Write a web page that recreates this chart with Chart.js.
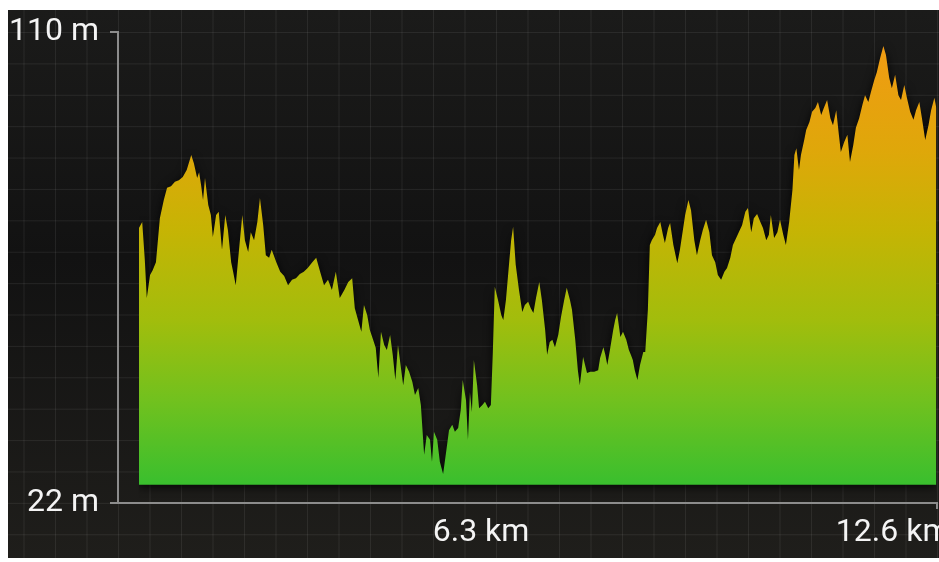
<!DOCTYPE html>
<html>
<head>
<meta charset="utf-8">
<script src="https://cdn.jsdelivr.net/npm/chart.js@4.4.0/dist/chart.umd.min.js"></script>
<style>
  html, body { margin: 0; padding: 0; background: #fff; }
  #wrap {
    position: absolute; left: 8px; top: 10px; width: 931px; height: 548px;
    background-color: #151515;
    background-image:
      linear-gradient(to right, rgba(255,255,255,0.07) 1px, transparent 1px),
      linear-gradient(to bottom, rgba(255,255,255,0.07) 1px, transparent 1px),
      linear-gradient(to bottom, #1b1b1a 0%, #121212 45%, #1f1e1b 100%);
    background-size: 31.5px 31.4px, 31.5px 31.4px, 100% 100%;
    background-position: 110px 22px, 110px 22px, 0 0;
    overflow: hidden;
  }
  canvas { display: block; }
</style>
</head>
<body>
<div id="wrap"><canvas id="profile" width="931" height="548"></canvas></div>
<script>
// elevation profile
const distanceKm = [
  1.07, 1.12, 1.16, 1.19, 1.24, 1.28, 1.33, 1.39, 1.45, 1.50, 1.56, 1.62, 1.68, 1.74, 1.80, 1.87, 1.91, 1.96, 1.99, 2.02,
  2.05, 2.08, 2.13, 2.17, 2.20, 2.25, 2.29, 2.34, 2.39, 2.43, 2.48, 2.51, 2.55, 2.60, 2.65, 2.69, 2.74, 2.78, 2.83, 2.88,
  2.92, 2.97, 3.01, 3.06, 3.10, 3.17, 3.23, 3.29, 3.35, 3.41, 3.47, 3.53, 3.59, 3.65, 3.72, 3.78, 3.84, 3.90, 3.96, 4.02,
  4.08, 4.14, 4.21, 4.27, 4.33, 4.37, 4.42, 4.47, 4.51, 4.56, 4.60, 4.65, 4.69, 4.73, 4.77, 4.82, 4.86, 4.91, 4.95, 4.99,
  5.03, 5.08, 5.11, 5.15, 5.20, 5.25, 5.29, 5.34, 5.38, 5.43, 5.47, 5.52, 5.55, 5.58, 5.63, 5.67, 5.72, 5.77, 5.81, 5.86,
  5.90, 5.95, 5.99, 6.02, 6.07, 6.10, 6.13, 6.16, 6.19, 6.24, 6.27, 6.32, 6.36, 6.41, 6.45, 6.48, 6.51, 6.56, 6.61, 6.64,
  6.68, 6.73, 6.76, 6.79, 6.83, 6.88, 6.93, 6.97, 7.02, 7.06, 7.10, 7.14, 7.19, 7.23, 7.28, 7.31, 7.35, 7.39, 7.43, 7.48,
  7.52, 7.57, 7.61, 7.66, 7.69, 7.74, 7.78, 7.81, 7.86, 7.89, 7.92, 7.97, 8.03, 8.09, 8.12, 8.17, 8.20, 8.23, 8.27, 8.32,
  8.35, 8.38, 8.43, 8.47, 8.52, 8.56, 8.59, 8.62, 8.65, 8.69, 8.73, 8.78, 8.81, 8.85, 8.88, 8.91, 8.96, 8.99, 9.04, 9.08,
  9.11, 9.16, 9.19, 9.24, 9.30, 9.34, 9.39, 9.42, 9.47, 9.51, 9.56, 9.60, 9.65, 9.69, 9.74, 9.79, 9.83, 9.88, 9.92, 9.97,
  10.02, 10.06, 10.11, 10.15, 10.20, 10.24, 10.29, 10.34, 10.38, 10.43, 10.47, 10.52, 10.57, 10.61, 10.66, 10.70, 10.73, 10.78, 10.83, 10.87,
  10.92, 10.96, 11.01, 11.06, 11.09, 11.12, 11.16, 11.19, 11.24, 11.27, 11.32, 11.36, 11.41, 11.45, 11.50, 11.54, 11.59, 11.64, 11.68, 11.73,
  11.77, 11.80, 11.85, 11.90, 11.94, 11.99, 12.03, 12.08, 12.13, 12.17, 12.22, 12.26, 12.31, 12.35, 12.40, 12.45, 12.49, 12.54, 12.58, 12.63,
  12.68, 12.72, 12.77, 12.81, 12.86, 12.91, 12.95, 13.00, 13.04, 13.09, 13.14, 13.18, 13.23, 13.26
];
const elevationM = [
  73.4, 74.5, 67.4, 60.3, 64.6, 65.5, 67.0, 75.2, 78.6, 80.9, 81.2, 82.0, 82.3, 82.9, 84.2, 87.0, 85.5, 82.7, 83.8, 81.4,
  78.6, 82.7, 77.7, 75.8, 71.7, 75.8, 76.4, 69.3, 75.8, 73.0, 67.0, 65.2, 62.7, 69.3, 75.8, 71.1, 68.9, 72.6, 71.1, 74.5,
  79.0, 73.9, 68.3, 67.8, 69.3, 67.0, 65.2, 64.4, 62.7, 63.7, 64.0, 64.8, 65.2, 65.9, 67.0, 67.8, 65.2, 62.7, 63.7, 61.8,
  65.2, 60.3, 61.8, 63.3, 64.0, 58.4, 56.2, 54.0, 59.0, 57.1, 54.3, 52.5, 51.0, 45.4, 54.0, 51.5, 50.6, 53.4, 49.7, 45.0,
  51.5, 46.8, 44.0, 47.8, 46.5, 44.6, 42.2, 43.5, 40.3, 31.0, 34.7, 33.8, 29.7, 35.3, 33.8, 29.7, 27.4, 31.9, 35.6, 36.6,
  35.3, 36.0, 39.4, 45.0, 41.2, 33.8, 42.7, 39.0, 48.7, 44.0, 39.7, 40.3, 40.9, 39.7, 40.3, 50.2, 62.4, 59.9, 57.1, 56.2,
  59.9, 67.0, 71.1, 73.6, 66.5, 61.8, 57.7, 59.0, 59.6, 58.4, 57.5, 60.3, 63.3, 59.9, 54.3, 49.7, 52.1, 52.5, 51.1, 53.4,
  56.6, 59.9, 62.2, 59.9, 58.1, 52.5, 46.8, 44.0, 49.3, 47.8, 46.3, 46.5, 46.5, 46.8, 49.1, 51.1, 49.7, 47.8, 50.6, 54.3,
  56.2, 57.5, 53.0, 54.0, 52.5, 50.6, 49.7, 48.7, 46.8, 45.0, 47.8, 50.2, 50.2, 58.1, 70.2, 71.1, 72.1, 73.4, 74.5, 72.1,
  70.6, 73.4, 74.3, 70.2, 66.8, 69.3, 73.4, 75.8, 78.6, 76.7, 71.1, 68.3, 71.1, 73.0, 74.9, 72.6, 68.3, 67.0, 64.6, 63.7,
  65.2, 65.9, 67.8, 70.2, 71.5, 72.6, 73.9, 76.4, 77.1, 72.6, 75.2, 76.0, 74.5, 73.4, 71.1, 72.1, 75.8, 71.5, 72.6, 74.9,
  72.1, 70.2, 74.5, 80.5, 87.0, 88.3, 84.2, 87.0, 89.8, 91.7, 93.2, 95.1, 95.8, 96.9, 94.5, 95.8, 97.3, 93.9, 92.6, 95.4,
  90.8, 87.6, 89.4, 90.8, 85.7, 88.9, 92.1, 93.9, 96.4, 98.2, 96.9, 98.8, 101.0, 102.5, 105.1, 107.4, 105.7, 101.4, 99.5, 102.0,
  98.2, 97.3, 100.1, 97.7, 95.1, 93.6, 95.4, 96.9, 93.9, 89.8, 92.6, 95.4, 97.7, 95.8
];
const xTicksKm = [6.3, 12.6];
const yTicksM = [22, 110];
const xMinKm = 0.75;
const xMaxKm = 13.27;
const fillBaseM = 25.4;

Chart.defaults.font.family = 'Roboto';

const axisColor = '#8c8c8c';
const labelFont = { family: 'Roboto', size: 32 };

function profileFill(context) {
    const area = context.chart.chartArea;
    if (!area) return '#8cbf18';
    const g = context.chart.ctx.createLinearGradient(0, area.top, 0, area.bottom);
    g.addColorStop(0.0, '#f39a14');
    g.addColorStop(0.25, '#dfa70a');
    g.addColorStop(0.42, '#c6b404');
    g.addColorStop(0.61, '#a2bd0c');
    g.addColorStop(0.78, '#72c11e');
    g.addColorStop(0.96, '#3abf2e');
    g.addColorStop(1.0, '#36be2e');
    return g;
}

const shadowPlugin = {
    id: 'profileShadow',
    beforeDatasetsDraw(chart) {
        const c = chart.ctx;
        c.save();
        c.shadowColor = 'rgba(0,0,0,0.85)';
        c.shadowBlur = 10;
        c.shadowOffsetY = 2;
    },
    afterDatasetsDraw(chart) {
        chart.ctx.restore();
    }
};

new Chart(document.getElementById('profile'), {
    type: 'line',
    data: {
        datasets: [{
            data: distanceKm.map((d, i) => ({ x: d, y: elevationM[i] })),
            fill: { value: fillBaseM },
            backgroundColor: profileFill,
            borderColor: 'rgba(0,0,0,0)',
            borderWidth: 1,
            pointRadius: 0,
            tension: 0
        }]
    },
    options: {
        responsive: false,
        animation: false,
        layout: { padding: { top: 22, left: 0, right: 2, bottom: 0 } },
        plugins: {
            legend: { display: false },
            tooltip: { enabled: false }
        },
        scales: {
            x: {
                type: 'linear',
                min: xMinKm,
                max: xMaxKm,
                afterBuildTicks: scale => {
                    scale.ticks = [xMinKm, ...xTicksKm, xMaxKm].map(v => ({ value: v }));
                },
                ticks: {
                    autoSkip: false,
                    maxRotation: 0,
                    padding: 5,
                    color: '#f4f4f4',
                    font: labelFont,
                    callback: v => xTicksKm.includes(v) ? v + ' km' : ''
                },
                grid: {
                    drawOnChartArea: false,
                    tickLength: 6,
                    lineWidth: 2,
                    color: c => (c.tick && c.tick.value === xMaxKm) ? axisColor : 'rgba(0,0,0,0)'
                },
                border: { color: axisColor, width: 2 },
                afterFit: scale => {
                    scale.height = 55;
                    scale.paddingLeft = 0;
                    scale.paddingRight = 0;
                }
            },
            y: {
                min: yTicksM[0],
                max: yTicksM[1],
                afterBuildTicks: scale => {
                    scale.ticks = yTicksM.map(v => ({ value: v }));
                },
                ticks: {
                    padding: 11,
                    color: '#f4f4f4',
                    font: labelFont,
                    callback: v => v + ' m'
                },
                grid: {
                    drawOnChartArea: false,
                    tickLength: 8,
                    lineWidth: 2,
                    color: axisColor
                },
                border: { color: axisColor, width: 2 },
                afterFit: scale => {
                    scale.width = 110;
                    scale.paddingTop = 0;
                    scale.paddingBottom = 0;
                }
            }
        }
    },
    plugins: [shadowPlugin]
});
</script>
</body>
</html>
